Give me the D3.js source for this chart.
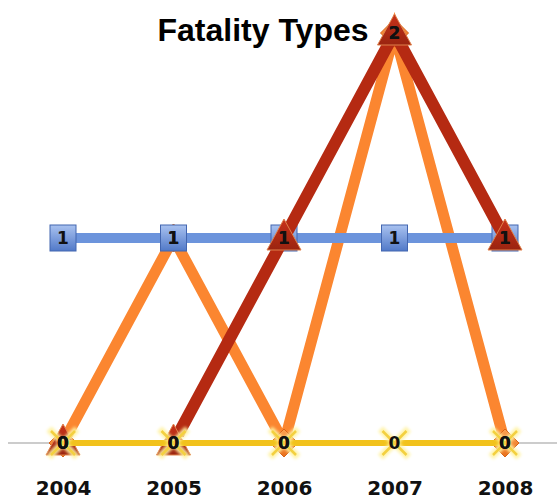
<!DOCTYPE html>
<html><head><meta charset="utf-8">
<script src="https://d3js.org/d3.v7.min.js"></script>
<style>body{margin:0;background:#fff}</style>
</head><body>
<script>
const years = ["2004","2005","2006","2007","2008"];
const blueVals = [1,1,1,1,1];
const orangeVals = [0,1,0,2,0];
const redVals = [0,0,1,2,1];
const yellowVals = [0,0,0,0,0];
const title = "Fatality Types";

const W=557,H=499;
const svg=d3.select("body").append("svg").attr("width",W).attr("height",H);
const defs=svg.append("defs");
const bg=defs.append("linearGradient").attr("id","bgrad").attr("x1",0).attr("y1",0).attr("x2",0).attr("y2",1);
bg.append("stop").attr("offset","0%").attr("stop-color","#a9c2f0");
bg.append("stop").attr("offset","100%").attr("stop-color","#5179c8");
const rg=defs.append("linearGradient").attr("id","rgrad").attr("x1",0).attr("y1",0).attr("x2",0).attr("y2",1);
rg.append("stop").attr("offset","0%").attr("stop-color","#c8321a");
rg.append("stop").attr("offset","100%").attr("stop-color","#9a2410");
const og=defs.append("linearGradient").attr("id","ograd").attr("x1",0).attr("y1",0).attr("x2",0).attr("y2",1);
og.append("stop").attr("offset","0%").attr("stop-color","#fda050");
og.append("stop").attr("offset","100%").attr("stop-color","#e8701c");
const glow=defs.append("filter").attr("id","glow").attr("x","-50%").attr("y","-50%").attr("width","200%").attr("height","200%");
glow.append("feGaussianBlur").attr("stdDeviation",1.8);

const x=d3.scalePoint().domain(years).range([63,505]);
const y=d3.scaleLinear().domain([0,2]).range([443,33]);

defs.append("clipPath").attr("id","plotclip").append("rect").attr("x",0).attr("y",0).attr("width",W).attr("height",y(0)-6);

// axis
svg.append("line").attr("x1",8).attr("x2",W).attr("y1",y(0)).attr("y2",y(0)).attr("stroke","#999").attr("stroke-width",1);
const xAxis=svg.append("g").attr("transform",`translate(0,${y(0)})`).call(d3.axisBottom(x).tickSize(0).tickPadding(0));
xAxis.select(".domain").remove();
xAxis.selectAll("text").attr("y",52).attr("dy",0).attr("font-family","DejaVu Sans").attr("font-weight","bold").attr("font-size",20).attr("fill","#111");

svg.append("text").attr("x",263).attr("y",41).attr("text-anchor","middle")
  .attr("font-family","Liberation Sans, Arial").attr("font-weight","bold").attr("font-size",32).attr("fill","#000").text(title);

const line=d3.line().x((d,i)=>x(years[i])).y(d=>y(d));

function drawLine(vals,color,w,clip){
  const p=svg.append("path").datum(vals).attr("d",line).attr("fill","none").attr("stroke",color).attr("stroke-width",w).attr("stroke-linejoin","miter").attr("stroke-miterlimit",10);
  if(clip) p.attr("clip-path","url(#plotclip)");
}

// orange
drawLine(orangeVals,"#fb8630",11,true);
svg.selectAll(".od").data(orangeVals).join("path").attr("class","od")
  .attr("transform",(d,i)=>`translate(${x(years[i])},${y(d)})`)
  .attr("d","M0,-14L14,0L0,14L-14,0Z").attr("fill","url(#ograd)").attr("stroke","#d86418").attr("stroke-width",1);

// blue
drawLine(blueVals,"#6c94dc",10,false);
svg.selectAll(".bs").data(blueVals).join("rect").attr("class","bs")
  .attr("x",(d,i)=>x(years[i])-13).attr("y",d=>y(d)-13).attr("width",26).attr("height",26)
  .attr("fill","url(#bgrad)").attr("stroke","#4366b0").attr("stroke-width",1);

// dark red
drawLine(redVals,"#b52a12",12,true);
svg.selectAll(".rt").data(redVals).join("path").attr("class","rt")
  .attr("transform",(d,i)=>`translate(${x(years[i])},${y(d)})`)
  .attr("d","M0,-19L17,12L-17,12Z").attr("fill","url(#rgrad)").attr("stroke","#e0804a").attr("stroke-width",1);

// yellow
drawLine(yellowVals,"#f2c21c",6,false);
const xs=svg.selectAll(".yx").data(yellowVals).join("g").attr("class","yx")
  .attr("transform",(d,i)=>`translate(${x(years[i])},${y(d)})`);
xs.append("path").attr("d","M-14,-14L14,14M14,-14L-14,14").attr("stroke","#fff2a0").attr("stroke-width",7).attr("filter","url(#glow)").attr("opacity",0.9);
xs.append("path").attr("d","M-12,-12L12,12M12,-12L-12,12").attr("stroke","#f3d040").attr("stroke-width",2.5);

// labels
const series=[orangeVals,blueVals,redVals,yellowVals];
series.forEach((vals,si)=>{
  svg.selectAll(".lab"+si).data(vals).join("text").attr("class","lab"+si)
    .attr("x",(d,i)=>x(years[i])).attr("y",d=>y(d)+6)
    .attr("text-anchor","middle").attr("font-family","DejaVu Sans").attr("font-weight","bold")
    .attr("font-size",17).attr("fill","#111").text(d=>d);
});
</script>
</body></html>
